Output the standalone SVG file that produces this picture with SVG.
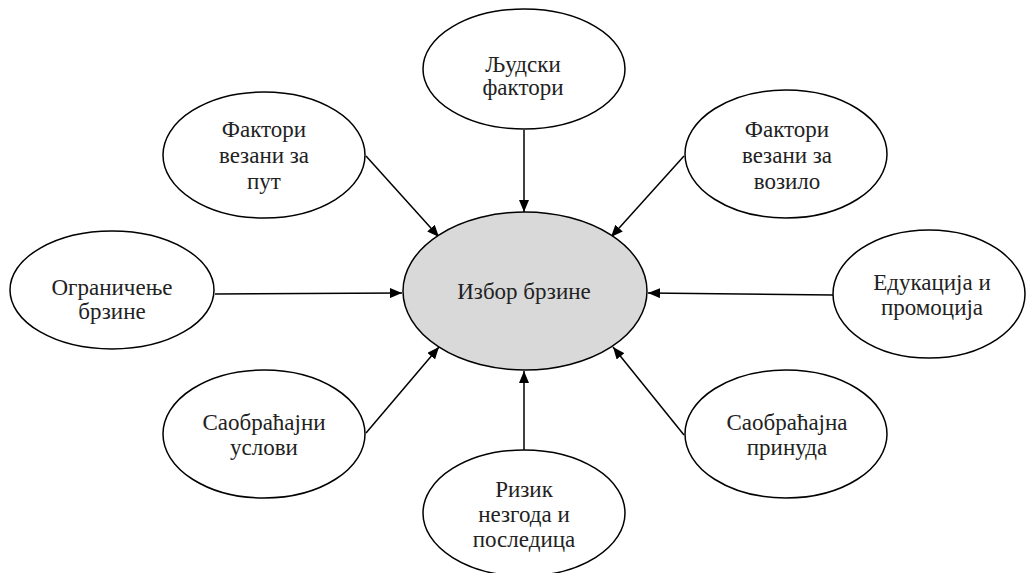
<svg xmlns="http://www.w3.org/2000/svg" width="1027" height="573" viewBox="0 0 1027 573">
<defs>
<style>
.n{fill:#fff;stroke:#000;stroke-width:1.5}
.c{fill:#d9d9d9;stroke:#000;stroke-width:1.5}
.e{stroke:#000;stroke-width:1.5;fill:none;marker-end:url(#ah)}
</style>
<marker id="ah" markerUnits="userSpaceOnUse" markerWidth="12" markerHeight="10" refX="12" refY="5" orient="auto">
<path d="M0,0 L12,5 L0,10 z" fill="#000"/>
</marker>
</defs>
<rect width="1027" height="573" fill="#fff"/>
<g id="connectors">
<line class="e" x1="524" y1="130" x2="524" y2="212"/>
<line class="e" x1="524" y1="450" x2="524" y2="371"/>
<line class="e" x1="215" y1="294" x2="402" y2="293"/>
<line class="e" x1="833" y1="295" x2="648" y2="293"/>
<line class="e" x1="366" y1="156" x2="439" y2="237"/>
<line class="e" x1="684" y1="156" x2="611" y2="237"/>
<line class="e" x1="366" y1="433" x2="439" y2="347"/>
<line class="e" x1="684" y1="435" x2="613" y2="347"/>
</g>
<g id="nodes" font-family="Liberation Serif" font-size="23" fill="#222" text-anchor="middle">
<g id="center">
<ellipse class="c" cx="525" cy="291" rx="122" ry="79"/>
<text x="524" y="299">Избор брзине</text>
</g>
<g id="ljudski">
<ellipse class="n" cx="524" cy="69" rx="101" ry="60"/>
<text x="523" y="72">Људски</text>
<text x="523" y="95">фактори</text>
</g>
<g id="put">
<ellipse class="n" cx="264" cy="155" rx="101" ry="63"/>
<text x="264" y="137">Фактори</text>
<text x="264" y="163">везани за</text>
<text x="264" y="189">пут</text>
</g>
<g id="vozilo">
<ellipse class="n" cx="786" cy="154" rx="101" ry="64"/>
<text x="787" y="137">Фактори</text>
<text x="787" y="163">везани за</text>
<text x="787" y="189">возило</text>
</g>
<g id="ogranicenje">
<ellipse class="n" cx="112" cy="290" rx="102" ry="59"/>
<text x="112" y="295">Ограничење</text>
<text x="112" y="319">брзине</text>
</g>
<g id="edukacija">
<ellipse class="n" cx="929" cy="294" rx="96" ry="64"/>
<text x="932" y="290">Едукација и</text>
<text x="932" y="315">промоција</text>
</g>
<g id="uslovi">
<ellipse class="n" cx="264" cy="434" rx="101" ry="64"/>
<text x="264" y="430">Саобраћајни</text>
<text x="264" y="455">услови</text>
</g>
<g id="prinuda">
<ellipse class="n" cx="786" cy="434" rx="101" ry="64"/>
<text x="787" y="430">Саобраћајна</text>
<text x="787" y="455">принуда</text>
</g>
<g id="rizik">
<ellipse class="n" cx="524" cy="513" rx="101" ry="63"/>
<text x="524" y="497">Ризик</text>
<text x="524" y="522">незгода и</text>
<text x="524" y="547">последица</text>
</g>
</g>
</svg>
